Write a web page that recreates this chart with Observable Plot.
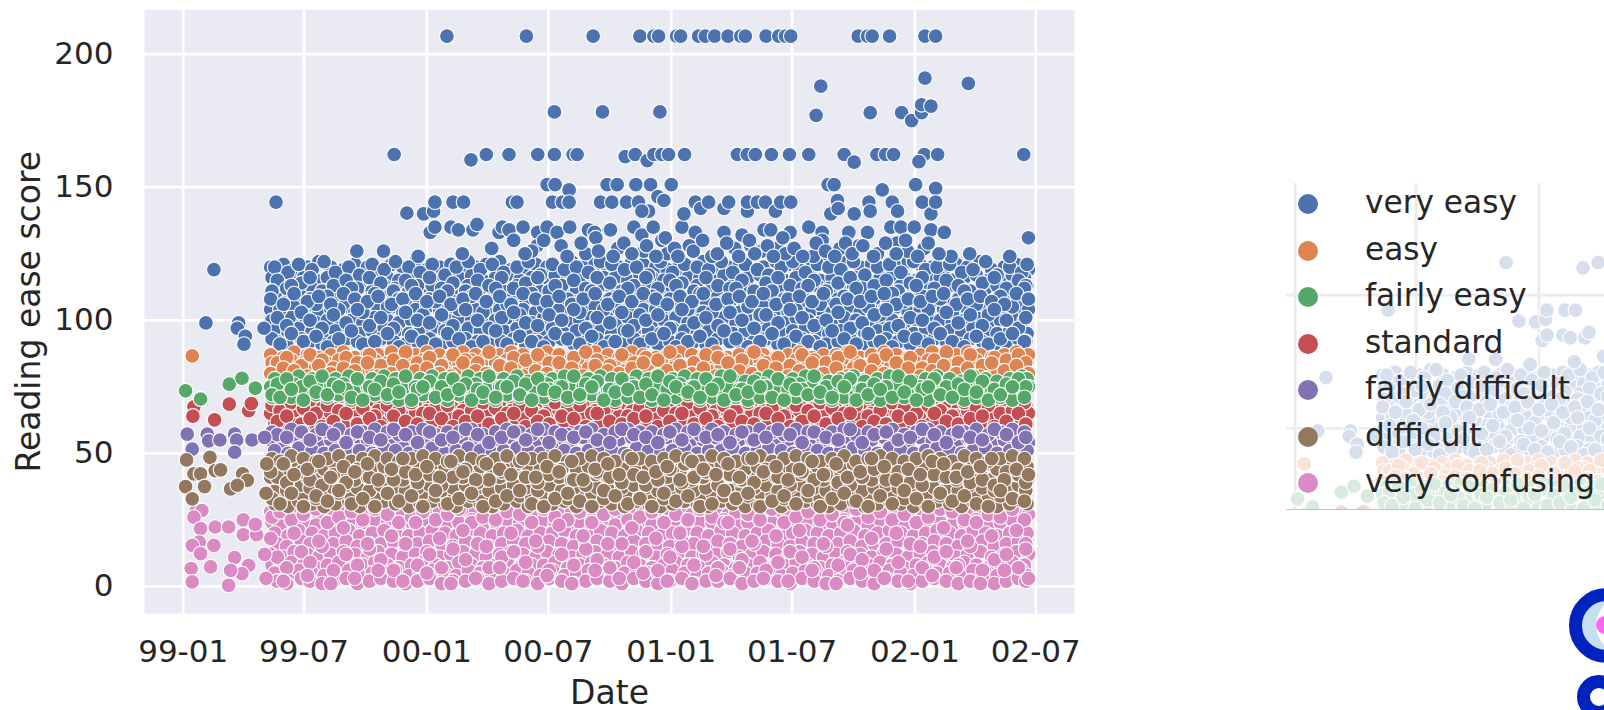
<!DOCTYPE html>
<html><head><meta charset="utf-8">
<script src="https://cdn.jsdelivr.net/npm/d3@7"></script>
<script src="https://cdn.jsdelivr.net/npm/@observablehq/plot@0.6"></script>
<style>
html,body{margin:0;padding:0;background:#fff;width:1604px;height:710px;overflow:hidden;font-family:"DejaVu Sans",sans-serif;color:#262626}
#main{position:absolute;left:0;top:0}
#ghost{position:absolute;left:1286px;top:183px;width:318px;height:326px;overflow:hidden;border-bottom:1px solid #c4c4c4}
#ghost svg{position:absolute;left:-174.3px;top:-74.7px;opacity:.22;max-width:none !important}
.lg{position:absolute;left:1365px;font-size:31.2px;line-height:40px;white-space:nowrap}
.sw{position:absolute;left:1298px;width:20px;height:20px;border-radius:50%}
.ring{position:absolute;border-radius:50%;box-sizing:border-box}
</style></head><body>
<div id="ghost"></div><div id="main"></div><div id="legend"></div>
<div class="ring" style="left:1569px;top:587.5px;width:75px;height:75px;border:13.7px solid #0023c0;background:#c5dff0"></div>
<div class="ring" style="left:1596px;top:597px;width:56px;height:56px;background:#fff"></div>
<div class="ring" style="left:1596px;top:616px;width:18px;height:18px;background:#ff66ee"></div>
<div class="ring" style="left:1576.7px;top:675px;width:44px;height:44px;border:13.3px solid #0023c0;background:#fff"></div>
<script>
const categories = ["very easy","easy","fairly easy","standard","fairly difficult","difficult","very confusing"];
const palette = ["#4c72b0","#dd8452","#55a868","#c44e52","#8172b3","#937860","#da8bc3"];
const tickLabels = ["1999-01-01","1999-07-01","2000-01-01","2000-07-01","2001-01-01","2001-07-01","2002-01-01","2002-07-01"];
const scoreTicks = [0,50,100,150,200];

// publication dates, as days after 1999-01-01
const datesA = [131,150,166,186,203,221,240,257,276,292,312,329,348,365,384,401,419,438,454,474,491,509,528,545,563,582,599,617,636,653,672,689,708,725,744,762,779,798,816,833,852,869,888,906,923,942,959,978,995,1014,1031,1050,1068,1086,1104,1122,1139,1158,1175,1194,1211,1230,1248,1266];
const datesB = [137,157,173,193,211,228,248,264,283,301,318,338,355,373,392,409,427,445,463,480,500,517,535,553,571,589,607,625,642,661,679,697,715,733,751,770,787,806,823,842,860,877,896,913,932,950,967,985,1004,1021,1040,1058,1075,1094,1112,1129,1148,1166,1183,1202,1219,1238,1256,1264];
const datesC = [133,145,162,180,199,216,233,252,269,287,306,323,342,359,378,396,413,432,449,468,485,504,522,540,557,576,594,612,630,647,666,684,702,720,738,756,774,792,810,828,846,864,882,900,918,936,954,972,990,1008,1026,1044,1062,1080,1098,1116,1134,1152,1170,1188,1206,1224,1242,1260];
const datesD = [141,155,177,190,208,225,244,261,279,296,315,333,351,369,387,404,423,441,458,477,495,513,531,548,567,585,603,620,639,657,675,693,711,729,747,765,783,801,819,837,855,873,891,909,927,945,963,981,999,1017,1035,1053,1071,1089,1107,1125,1143,1161,1179,1197,1215,1233,1251,1262];

// very easy: close rows
const veBase1 = [120,121,119,120,122,120,119,121,120,119,121,120,122,119,120,121,119,120,121,122,119,120,121,120,119,122,120,121,119,120,122,121,120,119,121,120,122,119,120,121,119,120,122,121,119,120,121,119,122,120,121,119,120,122,121,120,119,121,120,122,119,120,121,119];
const veBase2 = [116,115,117,116,115,116,117,115,116,117,116,115,116,117,115,116,116,117,115,116,117,115,116,115,117,116,115,117,116,116,115,117,116,115,117,116,116,115,117,115,116,117,116,115,116,117,115,116,117,116,115,116,117,116,115,117,116,115,116,117,115,116,117,116];
const veBase3 = [112,111,113,112,111,112,113,112,111,113,112,111,112,113,112,111,113,112,112,111,113,112,111,112,113,111,112,113,112,111,112,113,111,112,112,113,111,112,113,112,111,112,113,111,112,113,112,111,112,113,112,111,113,112,112,111,113,112,111,112,113,112,111,113];
const veBase4 = [108,107,109,108,107,108,109,107,108,109,108,107,109,108,108,107,109,108,107,108,109,108,107,109,108,107,108,109,108,107,109,108,107,108,109,108,107,109,107,108,109,108,107,108,109,107,108,108,109,107,108,109,108,107,109,108,107,108,109,108,107,109,108,107];
const veBase5 = [104,103,105,104,103,104,105,103,104,104,105,103,104,105,104,103,105,104,103,104,105,104,103,105,104,103,104,105,103,104,105,104,104,103,105,104,103,105,104,103,104,105,104,103,105,104,103,104,105,103,104,104,105,103,104,105,104,103,104,105,103,104,105,104];
const veBase6 = [100,99,101,100,99,100,101,100,99,101,100,99,100,101,99,100,101,100,99,100,101,100,99,101,100,99,100,101,100,99,101,100,99,100,101,99,100,100,101,99,100,101,100,99,101,100,99,100,101,100,99,101,100,99,100,101,100,99,100,101,99,100,101,100];
const veBase7 = [96,95,97,96,95,96,97,95,96,97,96,95,96,97,96,95,97,96,95,96,97,96,95,97,95,96,97,96,95,96,97,96,95,97,96,95,96,97,95,96,96,97,95,96,97,96,95,96,97,95,96,97,96,95,97,96,96,95,97,96,95,96,97,95];
const veBase8 = [92,91,93,92,91,92,93,92,91,93,92,91,92,93,91,92,93,92,91,92,93,91,92,92,93,91,92,93,92,91,93,92,91,92,93,92,91,93,92,91,92,93,91,92,93,92,91,92,93,91,92,93,92,91,92,93,92,91,93,92,91,92,93,92];
// very easy: scattered rows
const veryEasy1 = [120,118,121,119,122,118,120,117,121,119,122,120,118,121,117,120,122,119,121,118,120,122,117,121,119,120,118,122,121,119,120,117,122,118,121,120,119,122,118,121,119,117,120,122,118,121,120,119,122,117,120,121,118,122,119,120,121,118,119,122,117,120,118,121];
const veryEasy2 = [108,106,110,107,109,106,110,108,107,109,106,108,110,107,109,106,108,110,107,109,106,110,108,107,109,106,108,110,106,109,107,110,108,106,109,107,110,106,108,109,107,110,106,108,109,107,110,106,108,107,109,110,106,108,107,109,110,106,108,109,107,106,110,108];
const veryEasy3 = [93,91,95,92,94,90,93,96,91,92,95,90,94,92,91,95,93,90,92,96,91,94,92,90,95,93,91,94,90,92,96,91,93,95,90,92,94,91,96,93,90,92,95,91,94,92,90,96,93,91,95,92,90,94,93,91,95,92,90,94,91,93,95,92];
const veryEasy4 = [115,112,114,116,111,113,115,112,116,114,111,115,113,116,112,114,111,115,113,116,112,114,116,111,113,115,112,116,114,111,113,116,112,115,114,111,116,113,112,115,111,114,116,113,112,115,111,114,116,112,113,115,111,114,116,112,115,113,111,114,116,112,115,113];
const veryEasy5 = [101,98,103,100,97,102,99,104,98,101,97,103,100,99,102,98,104,100,97,101,103,99,98,102,100,104,97,101,99,103,98,100,102,97,104,99,101,98,103,100,97,102,99,104,101,98,100,103,97,99,102,104,98,101,100,97,103,99,102,98,104,100,97,101];
const veryEasy7 = [111,104,113,102,106,109,104,112,103,110,105,108,113,102,107,111,104,109,103,112,106,102,110,105,113,108,103,111,104,107,112,102,109,105,113,104,110,103,107,112,105,102,111,108,104,113,106,103,109,112,105,102,110,107,113,104,108,103,111,106,102,109,105,112];
const veryEasyOutliers = [[46,119],[34,99],[83,99],[81,97],[93,94],[91,91],[121,97],
[139,144.4],[260,126],[335,140.3],[360,140],[375,141],[370,133],[377,135],[377,144.4],[401,135],[404,144.4],[412,134],[420,144.4],[434,134],[440,136],[431,160.3],[316,162.3],[454,162.3],[488,162.3],[531,162.3],[556,162.3],[584,162.3],[590,162.3],
[473,133],[478,135],[488,134],[493,144.4],[495,130],[500,144.4],[509,135],[531,133],[530,128],[545,135],[545,151],[553,144.4],[557,151],[560,133],[568,144.4],[578,149],[578,144.4],[579,135],[607,134],[616,133],[618,131],[625,144.4],[635,151],[638,134],[640,134],[642,144.4],[650,151],[664,144.4],[675,135],[678,151],[682,144.4],[687,132],[697,141],[687,141],[700,151],[704,135],[711,146.5],[717,130],[720,145],[731,151],[747,135],[750,140],[767,144.4],[767,133],[775,142],[787,144.4],[810,133],[810,142],[817,144.4],[837,132],[845,141],[845,144.4],[850,128],[860,144.4],[870,134],[872,144.4],[880,134],[887,141],[890,127],[895,144.4],[909,133],[910,144.4],[937,135],[957,133],[957,130],[966,151],[970,140],[975,151],[980,145],[981,142],[997,133],[1005,140],[1012,128],[1025,133],[1027,144.4],[1029,141],[1047,149],[1060,135],[1062,144.4],[1069,129],[1070,141],[1075,135],[1095,135],[1097,151],[1107,144.4],[1110,127],[1120,134],[1120,140],[1127,149.6],[1127,144.4],[1140,133],[1266,131],
[395,206.8],[514,206.8],[614,206.8],[684,206.8],[705,206.8],[712,206.8],[739,206.8],[745,206.8],[772,206.8],[782,206.8],[796,206.8],[816,206.8],[835,206.8],[842,206.8],[873,206.8],[892,206.8],[902,206.8],[910,206.8],[1011,206.8],[1025,206.8],[1032,206.8],[1058,206.8],[1111,206.8],[1127,206.8],
[1111,191],[1176,189],[955,188],[556,178.3],[628,178.3],[714,178.3],[948,177],[1029,178],[1076,178],[1091,175],[1106,178],[1106,181],[1120,180.5],
[662,161.5],[677,162.3],[695,160],[705,162.3],[717,162.3],[727,162.3],[751,162.3],[830,162.3],[845,162.3],[857,162.3],[881,162.3],[908,162.3],[937,162.3],[990,162.3],[1005,159.4],[1039,162.3],[1052,162.3],[1064,162.3],[1110,162.3],[1102,159.6],[1130,162.3],[1259,162.3],
[300,126],[352,124],[418,125],[462,127],[522,126],[566,128],[603,125],[651,127],[690,126],[725,125],[758,128],[792,124],[826,127],[866,126],[902,125],[944,124],[984,127],[1040,125],[1085,126],[1150,124],[1178,125],[1238,124],
[512,125],[540,130],[575,124],[596,129],[622,126],[644,124],[660,129],[672,125],[694,128],[708,124],[722,131],[736,127],[741,124],[764,126],[778,130],[800,125],[814,129],[832,124],[848,130],[856,125],[875,128],[884,124],[898,131],[915,127],[928,124],[948,129],[962,126],[976,124],[992,129],[1002,125],[1018,128],[1034,124],[1052,129],[1068,125],[1082,130],[1100,124],[1116,129],[1132,125]];

// easy
const easyBase1 = [87,86,88,87,86,87,88,86,87,87,88,86,87,88,87,86,88,87,86,87,88,87,86,88,87,86,87,88,87,86,88,87,86,87,88,87,86,88,86,87,88,87,86,87,88,86,87,87,88,86,87,88,87,86,87,88,86,87,88,87,86,87,88,87];
const easyBase2 = [84,83,85,84,83,84,85,83,84,85,84,83,84,85,83,84,84,85,83,84,85,84,83,85,84,83,84,85,84,83,85,84,83,84,85,83,84,84,85,83,84,85,84,83,85,84,83,84,85,84,83,85,84,83,84,85,84,83,84,85,83,84,85,84];
const easyBase3 = [81,80,82,81,80,81,82,80,81,81,82,80,81,82,81,80,82,81,80,81,82,81,80,82,80,81,82,81,80,81,82,81,80,82,81,80,81,82,80,81,81,82,80,81,82,81,80,81,82,80,81,82,81,80,82,81,81,80,82,81,80,81,82,80];
const easy1 = [84,86,83,87,85,82,86,84,87,83,85,88,84,86,83,87,85,84,88,83,86,85,87,84,82,86,88,85,83,87,84,86,85,88,83,84,87,86,82,85,88,84,86,83,87,85,84,86,88,83,85,87,84,86,82,85,88,84,87,83,86,85,87,84];
const easy2 = [80,82,81,79,83,80,82,81,84,79,80,83,81,82,80,79,84,81,80,83,82,79,81,80,84,82,79,83,81,80,82,84,79,81,83,80,82,79,84,81,80,83,82,79,81,84,80,82,79,83,81,80,84,82,79,81,83,80,82,79,84,81,83,80];

// fairly easy
const feBase1 = [78,77,79,78,77,78,79,77,78,79,78,77,78,79,78,77,79,78,77,78,79,77,78,78,79,77,78,79,78,77,79,78,77,78,79,78,77,79,78,77,78,79,77,78,79,78,77,78,79,77,78,79,78,77,78,79,78,77,79,78,77,78,79,78];
const feBase2 = [75,74,76,75,74,75,76,74,75,76,75,74,75,76,74,75,75,76,74,75,76,75,74,76,75,74,75,76,74,75,76,75,75,74,76,75,74,76,75,74,75,76,75,74,76,75,74,75,76,74,75,75,76,74,75,76,75,74,75,76,74,75,76,75];
const feBase3 = [71,72,71,70,72,71,72,70,71,72,71,70,71,72,71,70,72,71,71,70,72,71,70,71,72,70,71,72,71,70,71,72,70,71,71,72,70,71,72,71,70,71,72,70,71,72,71,70,71,72,71,70,72,71,71,70,72,71,70,71,72,71,70,72];
const fairlyEasy1 = [76,78,75,77,79,76,74,78,75,77,76,79,74,77,75,78,76,74,79,75,77,76,78,74,75,79,76,77,74,78,75,76,79,77,74,75,78,76,79,74,77,75,78,76,74,79,75,77,78,74,76,75,79,77,74,78,75,76,79,77,74,76,78,75];
const fairlyEasy2 = [72,71,74,70,73,72,75,71,70,74,72,73,70,75,71,72,74,70,73,71,75,72,70,74,73,71,72,75,70,73,74,71,72,70,75,73,71,74,70,72,73,75,71,70,74,72,73,71,75,70,72,74,71,73,70,75,72,71,74,73,70,72,75,71];

// standard
const stBase1 = [68,67,69,68,67,68,69,67,68,68,69,67,68,69,68,67,69,68,67,68,69,68,67,69,68,67,68,69,67,68,69,68,68,67,69,68,67,69,68,67,68,69,68,67,69,68,67,68,69,67,68,68,69,67,68,69,68,67,68,69,67,68,69,68];
const stBase2 = [65,64,66,65,64,65,66,64,65,66,65,64,65,66,65,64,66,65,64,65,66,64,65,65,66,64,65,66,65,64,66,65,64,65,66,65,64,66,65,64,65,66,64,65,66,65,64,65,66,64,65,66,65,64,65,66,65,64,66,65,64,65,66,65];
const stBase3 = [61,60,62,61,60,61,62,60,61,62,61,60,61,62,60,61,61,62,60,61,62,61,60,62,61,60,61,62,61,60,62,61,60,61,62,60,61,61,62,60,61,62,61,60,62,61,60,61,62,61,60,62,61,60,61,62,61,60,61,62,60,61,62,61];
const standard1 = [68,66,69,67,65,68,66,69,67,64,68,66,69,65,67,68,64,66,69,67,65,68,66,64,69,67,68,65,66,69,64,67,68,66,65,69,67,64,68,66,69,65,67,64,68,66,69,67,65,68,64,66,69,67,65,68,66,64,69,67,68,65,66,69];
const standard2 = [62,64,61,63,60,62,65,61,63,60,64,62,61,65,63,60,62,64,61,63,65,60,62,61,64,63,60,65,62,61,63,64,60,62,65,61,63,60,64,62,61,65,63,60,62,64,61,63,65,60,62,61,64,63,60,65,62,61,63,64,60,62,65,61];

// fairly difficult
const fdBase1 = [58,57,59,58,57,58,59,57,58,59,58,57,58,59,57,58,58,59,57,58,59,58,57,59,58,57,58,59,57,58,59,58,58,57,59,58,57,59,58,57,58,59,58,57,59,58,57,58,59,57,58,58,59,57,58,59,58,57,58,59,57,58,59,58];
const fdBase2 = [55,54,56,55,54,55,56,54,55,55,56,54,55,56,55,54,56,55,54,55,56,55,54,56,54,55,56,55,54,55,56,55,54,56,55,54,55,56,54,55,55,56,54,55,56,55,54,55,56,54,55,56,55,54,56,55,55,54,56,55,54,55,56,54];
const fdBase3 = [51,50,52,51,50,51,52,51,50,52,51,50,51,52,50,51,52,51,50,51,52,51,50,52,51,50,51,52,51,50,52,51,50,51,52,50,51,51,52,50,51,52,51,50,52,51,50,51,52,51,50,52,51,50,51,52,51,50,51,52,50,51,52,51];
const fairlyDifficult1 = [57,56,58,55,59,57,54,58,56,55,59,57,54,58,55,56,59,57,54,56,58,55,59,54,57,56,58,55,54,59,57,56,54,58,55,59,56,57,54,58,55,56,59,57,54,58,56,55,59,54,57,58,55,56,59,57,54,58,56,55,59,57,54,56];

// difficult
const dfBase1 = [48,47,49,48,47,48,49,47,48,49,48,47,48,49,48,47,49,48,47,48,49,47,48,48,49,47,48,49,48,47,49,48,47,48,49,48,47,49,48,47,48,49,47,48,49,48,47,48,49,47,48,49,48,47,48,49,48,47,49,48,47,48,49,48];
const dfBase2 = [45,44,46,45,44,45,46,44,45,45,46,44,45,46,45,44,46,45,44,45,46,45,44,46,45,44,45,46,44,45,46,45,45,44,46,45,44,46,45,44,45,46,45,44,46,45,44,45,46,44,45,45,46,44,45,46,45,44,45,46,44,45,46,45];
const dfBase3 = [41,40,42,41,40,41,42,40,41,42,41,40,41,42,40,41,41,42,40,41,42,41,40,42,41,40,41,42,41,40,42,41,40,41,42,40,41,41,42,40,41,42,41,40,42,41,40,41,42,41,40,42,41,40,41,42,41,40,41,42,40,41,42,41];
const dfBase4 = [37,36,38,37,36,37,38,37,36,38,37,36,37,38,36,37,38,37,36,37,38,37,36,38,36,37,38,37,36,37,38,37,36,38,37,36,37,38,36,37,37,38,36,37,38,37,36,37,38,36,37,38,37,36,38,37,37,36,38,37,36,37,38,36];
const dfBase5 = [34,33,35,34,33,34,35,33,34,34,35,33,34,35,34,33,35,34,33,34,35,34,33,35,34,33,34,35,33,34,35,34,34,33,35,34,33,35,34,33,34,35,34,33,35,34,33,34,35,33,34,34,35,33,34,35,34,33,34,35,33,34,35,34];
const dfBase6 = [31,30,32,31,30,31,32,30,31,32,31,30,31,32,31,30,32,31,30,31,32,30,31,31,32,30,31,32,31,30,32,31,30,31,32,31,30,32,31,30,31,32,30,31,32,31,30,31,32,30,31,32,31,30,31,32,31,30,32,31,30,31,32,31];
const difficult3 = [41,39,43,40,38,42,39,44,41,38,40,43,39,42,38,41,44,39,40,43,38,41,39,42,44,40,38,43,41,39,42,38,40,44,39,41,43,38,42,40,39,44,41,38,43,40,42,39,38,41,44,40,43,39,38,42,41,44,39,40,38,43,42,39];
const difficult5 = [43,46,42,44,47,41,45,43,46,40,44,48,42,45,41,47,43,40,46,44,42,48,41,45,43,47,40,44,46,42,48,41,43,45,40,47,44,42,46,41,48,43,45,40,44,47,42,46,41,43,48,45,40,44,42,47,46,41,43,45,48,40,44,42];
const difficult2 = [33,31,35,30,34,32,36,31,33,30,35,32,34,30,36,31,33,35,30,32,34,36,31,30,33,35,32,30,36,34,31,33,30,35,32,34,30,31,36,33,35,30,32,34,31,36,30,33,35,32,30,34,31,36,33,30,35,32,34,31,30,36,33,32];

// very confusing
const vcBase1 = [28,27,29,28,27,28,29,27,28,28,29,27,28,29,28,27,29,28,27,28,29,28,27,29,27,28,29,28,27,28,29,28,27,29,28,27,28,29,27,28,28,29,27,28,29,28,27,28,29,27,28,29,28,27,29,28,28,27,29,28,27,28,29,27];
const vcBase2 = [24,23,25,24,23,24,25,23,24,25,24,23,24,25,23,24,24,25,23,24,25,24,23,25,24,23,24,25,24,23,25,24,23,24,25,23,24,24,25,23,24,25,24,23,25,24,23,24,25,24,23,25,24,23,24,25,24,23,24,25,23,24,25,24];
const vcBase3 = [20,19,21,20,19,20,21,19,20,21,20,19,20,21,20,19,21,20,19,20,21,19,20,20,21,19,20,21,20,19,21,20,19,20,21,20,19,21,20,19,20,21,19,20,21,20,19,20,21,19,20,21,20,19,20,21,20,19,21,20,19,20,21,20];
const vcBase4 = [16,15,17,16,15,16,17,15,16,16,17,15,16,17,16,15,17,16,15,16,17,16,15,17,16,15,16,17,15,16,17,16,16,15,17,16,15,17,16,15,16,17,16,15,17,16,15,16,17,15,16,16,17,15,16,17,16,15,16,17,15,16,17,16];
const vcBase5 = [12,11,13,12,11,12,13,12,11,13,12,11,12,13,11,12,13,12,11,12,13,12,11,13,12,11,12,13,12,11,13,12,11,12,13,11,12,12,13,11,12,13,12,11,13,12,11,12,13,12,11,13,12,11,12,13,12,11,12,13,11,12,13,12];
const vcBase6 = [8,7,9,8,7,8,9,7,8,9,8,7,8,9,8,7,9,8,7,8,9,7,8,8,9,7,8,9,8,7,9,8,7,8,9,8,7,9,8,7,8,9,7,8,9,8,7,8,9,7,8,9,8,7,8,9,8,7,9,8,7,8,9,8];
const vcBase7 = [5,4,6,5,4,5,6,4,5,5,6,4,5,6,5,4,6,5,4,5,6,5,4,6,4,5,6,5,4,5,6,5,4,6,5,4,5,6,4,5,5,6,4,5,6,5,4,5,6,4,5,6,5,4,6,5,5,4,6,5,4,5,6,4];
const vcBase8 = [2,1,3,2,1,2,3,1,2,3,2,1,2,3,1,2,2,3,1,2,3,2,1,3,2,1,2,3,2,1,3,2,1,2,3,1,2,2,3,1,2,3,2,1,3,2,1,2,3,2,1,3,2,1,2,3,2,1,2,3,1,2,3,2];
const veryConfusing1 = [26,28,25,27,29,24,26,28,25,29,27,24,26,28,25,27,29,24,26,25,28,27,24,29,26,25,28,24,27,29,25,26,28,24,27,25,29,26,24,28,27,25,29,24,26,28,25,27,24,29,26,28,25,27,24,26,29,28,25,24,27,26,29,25];
const veryConfusing7 = [11,7,13,9,15,6,12,8,14,10,6,16,8,12,7,14,10,16,7,11,13,9,15,6,12,8,14,10,7,16,9,13,6,11,15,8,12,7,14,10,16,6,9,13,11,7,15,8,12,10,6,14,9,16,7,11,13,8,15,6,10,12,7,14];
const veryConfusing8 = [18,2,20,4,17,1,22,3,16,6,19,2,24,5,18,1,21,3,15,7,20,2,17,4,23,1,19,6,16,3,22,5,18,2,20,1,15,4,24,7,17,3,19,2,21,6,16,1,23,5,18,3,20,2,15,4,22,7,17,1,19,6,21,3];

const earlyEasy = [[13.5,86.6]];
const earlyFairlyEasy = [[3.5,73.5],[26,70.4],[69,76],[88,78.2],[108,74.5]];
const earlyStandard = [[16,67.5],[14.5,64],[69,68.5],[47,62.6],[98,66],[102,68.7]];
const earlyFairlyDifficult = [[6,57.2],[13.5,51.6],[36,57.2],[38,54.7],[55,55],[77,57.2],[80,55],[77,50.4],[103,55],[122,56]];
const earlyDifficult = [[5,47.5],[40,48.5],[16,42.3],[26,42.3],[48,43.5],[56,43.8],[3.5,37.5],[32,37.5],[13.5,32.9],[89,42.3],[96,39.8],[71,36.6],[81,38],[125,46],[124,35]];
const earlyVeryConfusing = [[19.5,28.3],[28,28.5],[16,26],[26,21.7],[48,22.3],[68,22.3],[90,25],[90,19.4],[110,19.4],[108,23.3],[24,16.6],[46,15.4],[13.5,15.4],[26,12.3],[77,10.8],[98,7.9],[41,7.3],[12,6.7],[88,4.8],[68,.4],[13.5,1.7],[71,6],[122,12],[124,3]];

const base = new Date(Date.UTC(1999,0,1));
const toDate = d => new Date(+base + d*864e5);
const row = (cat, dates, scores) => scores.map((s,i) => ({cat, date: toDate(dates[i]), score: s}));
const pairs = (cat, list) => list.map(([d,s]) => ({cat, date: toDate(d), score: s}));

// drawing order: pink lowest, brown on top
const points = [
  ...row("very confusing",datesA,vcBase1),...row("very confusing",datesC,vcBase2),...row("very confusing",datesB,vcBase3),...row("very confusing",datesD,vcBase4),
  ...row("very confusing",datesA,vcBase5),...row("very confusing",datesC,vcBase6),...row("very confusing",datesB,vcBase7),...row("very confusing",datesD,vcBase8),
  ...row("very confusing",datesC,veryConfusing1),...row("very confusing",datesD,veryConfusing7),...row("very confusing",datesA,veryConfusing8),
  ...pairs("very confusing",earlyVeryConfusing),
  ...row("very easy",datesA,veBase1),...row("very easy",datesC,veBase2),...row("very easy",datesB,veBase3),...row("very easy",datesD,veBase4),
  ...row("very easy",datesA,veBase5),...row("very easy",datesC,veBase6),...row("very easy",datesB,veBase7),...row("very easy",datesD,veBase8),
  ...row("very easy",datesB,veryEasy1),...row("very easy",datesD,veryEasy4),...row("very easy",datesC,veryEasy7),...row("very easy",datesA,veryEasy2),
  ...row("very easy",datesD,veryEasy5),...row("very easy",datesC,veryEasy3),
  ...pairs("very easy",veryEasyOutliers),
  ...pairs("easy",earlyEasy),...row("easy",datesA,easyBase1),...row("easy",datesC,easyBase2),...row("easy",datesB,easyBase3),...row("easy",datesD,easy1),...row("easy",datesA,easy2),
  ...row("fairly difficult",datesA,fdBase2),...row("fairly difficult",datesB,fdBase3),
  ...row("standard",datesB,stBase3),...row("standard",datesD,stBase1),...row("standard",datesA,stBase2),...row("standard",datesC,standard1),...row("standard",datesD,standard2),...pairs("standard",earlyStandard),
  ...row("fairly difficult",datesC,fdBase1),...row("fairly difficult",datesD,fairlyDifficult1),...pairs("fairly difficult",earlyFairlyDifficult),
  ...row("fairly easy",datesC,feBase3),...row("fairly easy",datesB,feBase1),...row("fairly easy",datesA,feBase2),...row("fairly easy",datesD,fairlyEasy1),...row("fairly easy",datesC,fairlyEasy2),...pairs("fairly easy",earlyFairlyEasy),
  ...row("difficult",datesB,dfBase6),...row("difficult",datesC,dfBase5),...row("difficult",datesD,dfBase4),...row("difficult",datesA,dfBase3),...row("difficult",datesB,dfBase2),...row("difficult",datesC,dfBase1),
  ...row("difficult",datesD,difficult3),...row("difficult",datesA,difficult5),...row("difficult",datesC,difficult2),...pairs("difficult",earlyDifficult)
];

const tickDates = tickLabels.map(s => new Date(s + "T00:00:00Z"));
function chart(ghost){
  return Plot.plot({
    width:1604, height:710,
    marginLeft:144, marginRight:530, marginTop:9.5, marginBottom:97,
    style:{fontFamily:'"DejaVu Sans",sans-serif',background:"transparent",color:"#262626",overflow:"visible"},
    x:{type:"utc",domain:[new Date(Date.UTC(1998,10,4)),new Date(Date.UTC(2002,7,28))],axis:ghost?null:undefined},
    y:{domain:[-10.2,216.6],axis:ghost?null:undefined},
    color:{domain:categories,range:palette},
    marks:[
      ghost ? null : Plot.frame({fill:"#eaeaf2",stroke:null}),
      Plot.gridX(tickDates,{stroke:ghost?"#aaa":"#fff",strokeWidth:2.7,strokeOpacity:1}),
      Plot.gridY(scoreTicks,{stroke:ghost?"#aaa":"#fff",strokeWidth:2.7,strokeOpacity:1}),
      ghost ? null : Plot.axisX({ticks:tickDates,tickFormat:d3.utcFormat("%y-%m"),tickSize:0,tickPadding:26,fontSize:31,label:null}),
      ghost ? null : Plot.axisX({ticks:[],tickSize:0,fontSize:33,label:"Date",labelAnchor:"center",labelOffset:90,labelArrow:false}),
      ghost ? null : Plot.axisY({ticks:scoreTicks,tickSize:0,tickPadding:31,fontSize:31,label:null}),
      ghost ? null : Plot.axisY({ticks:[],tickSize:0,fontSize:33,label:"Reading ease score",labelAnchor:"center",labelOffset:128,labelArrow:false}),
      Plot.dot(points,{x:"date",y:"score",fill:"cat",r:7.4,stroke:"#fff",strokeWidth:1.1})
    ]
  });
}
document.getElementById("main").append(chart(false));
document.getElementById("ghost").append(chart(true));
const lg = document.getElementById("legend");
categories.forEach((c,i)=>{
  const top = 204 + i*46.5;
  const s = document.createElement("div"); s.className="sw"; s.style.top=(top-10)+"px"; s.style.background=palette[i]; lg.append(s);
  const t = document.createElement("div"); t.className="lg"; t.style.top=(top-22)+"px"; t.textContent=c; lg.append(t);
});
</script></body></html>
